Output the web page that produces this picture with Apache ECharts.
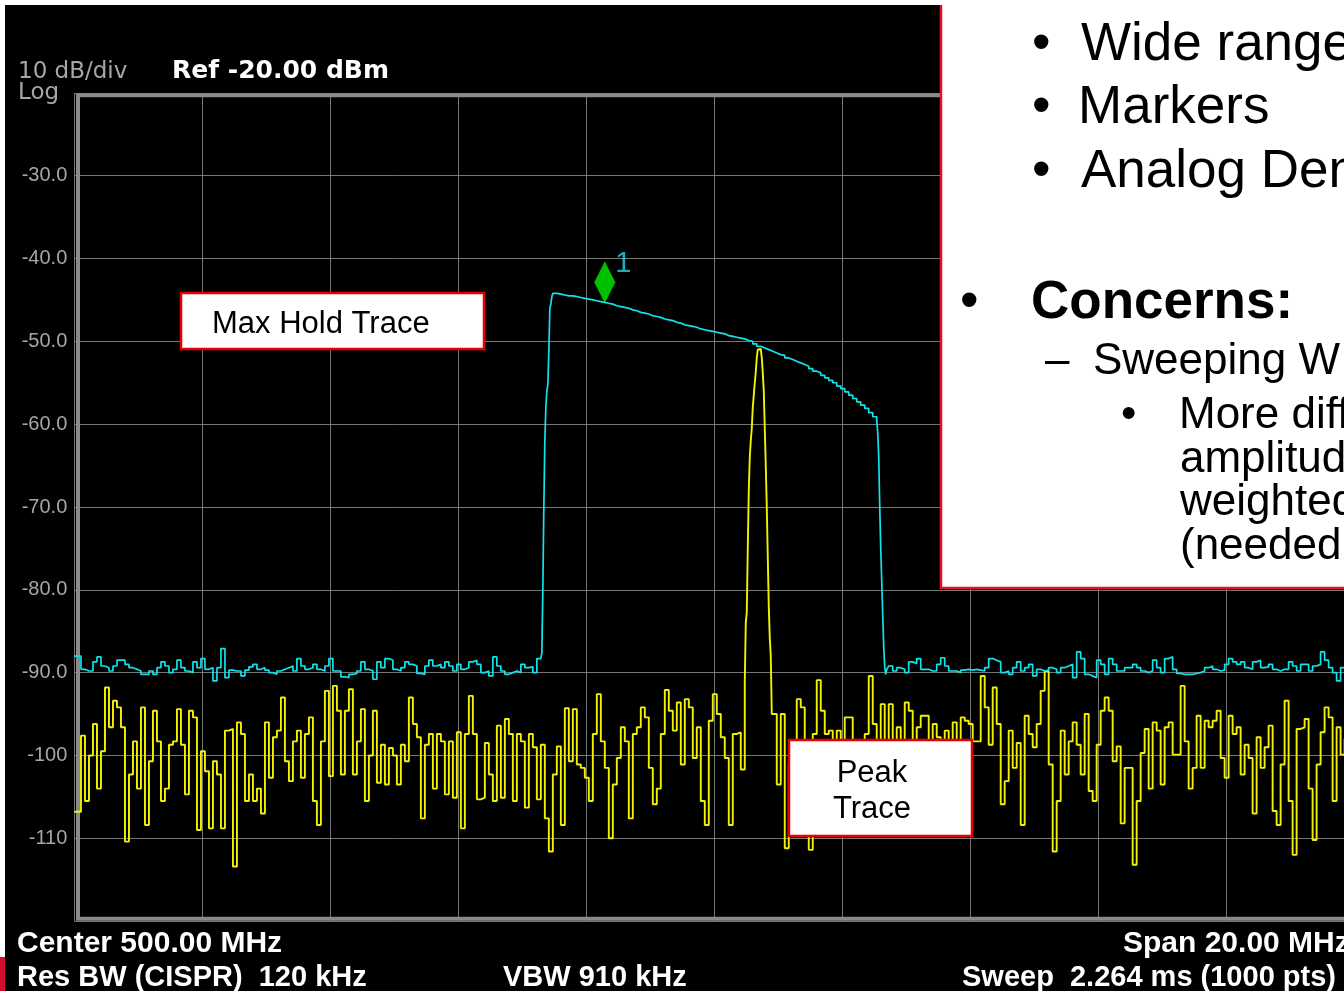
<!DOCTYPE html>
<html>
<head>
<meta charset="utf-8">
<title>Spectrum - Max Hold vs Peak</title>
<script src="https://cdn.jsdelivr.net/npm/echarts@6/dist/echarts.min.js"></script>
<style>
  html, body { margin: 0; padding: 0; width: 1344px; height: 991px; overflow: hidden; background: #ffffff; }
  #chart { position: absolute; left: 0; top: 0; width: 1360px; height: 991px; }
</style>
</head>
<body>
<div id="chart"></div>
<script>
// Sweep: center 500 MHz, span 20 MHz, displayed in 0.0625 MHz bins
const START_FREQ = 490;
const STOP_FREQ = 510;
const BIN_STEP = 0.0625;
const FINE_STEP = 0.015625;
const BIN_OFFSET = 0.042;   // first bin edge relative to the start frequency

const levelTicks = [-30, -40, -50, -60, -70, -80, -90, -100, -110];
const levelTickLabels = ['-30.0', '-40.0', '-50.0', '-60.0', '-70.0', '-80.0', '-90.0', '-100', '-110'];

// Peak (clear/write) trace, dBm
const peakLowStart = 0;
const peakLow = [
  -106.8,-97.6,-105.5,-100.0,-96.2,-104.0,-99.5,-91.8,-96.6,-93.4,
  -94.2,-96.6,-110.4,-102.3,-98.3,-104.0,-94.2,-108.4,-100.7,-94.6,
  -98.3,-105.5,-104.0,-98.7,-98.3,-94.4,-98.7,-104.7,-94.6,-95.4,
  -109.0,-99.5,-101.9,-108.8,-100.7,-102.3,-108.8,-97.0,-96.8,-113.4,
  -96.0,-97.4,-105.5,-102.3,-105.5,-104.0,-107.0,-96.0,-102.7,-97.8,
  -97.0,-93.0,-100.7,-103.1,-98.3,-97.0,-102.7,-97.4,-95.4,-105.5,
  -108.4,-98.3,-92.2,-102.5,-91.6,-94.6,-102.3,-94.6,-92.0,-102.3,
  -98.3,-94.4,-105.5,-100.0,-94.6,-103.3,-98.7,-103.5,-99.1,-100.0,
  -103.5,-98.7,-100.7,-93.0,-96.2,-97.8,-107.6,-98.7,-97.4,-104.0,
  -97.4,-98.3,-104.7,-98.3,-105.1,-97.2,-108.8,-97.4,-92.8,-97.4,
  -105.3,-105.1,-98.5,-102.3,-105.5,-96.4,-105.1,-95.6,-97.4,-105.5,
  -97.4,-98.3,-106.3,-97.4,-99.0,-105.3,-98.7,-107.6,-111.6,-102.3,
  -98.9,-108.4,-94.3,-100.7,-94.4,-101.1,-101.5,-102.7,-105.5,-97.4,
  -92.6,-98.3,-101.5,-110.0,-103.5,-100.3,-96.6,-98.3,-107.6,-97.4,
  -96.6,-94.2,-95.4,-101.5,-105.9,-104.0,-97.4,-92.1,-94.6,-97.0,
  -93.6,-101.1,-93.2,-94.2,-100.3,-96.6,-105.5,-108.4,-95.8,-92.6,
  -95.0,-97.8,-100.3,-108.4,-97.4,-97.2,-101.7
];
const peakCarrierStart = 167;
const peakCarrier = [
  -91.0,-84.0,-82.7,-75.0,-68.0,-64.0,-62.0,-60.5,-58.0,-56.5,
  -55.0,-53.7,-52.0,-51.0,-50.9,-50.9,-51.0,-52.0,-53.8,-56.0,
  -60.5,-65.0,-70.0,-76.0,-82.0,-85.8,-88.0,-95.0
];
const peakHighStart = 174;
const peakHigh = [
  -95.0,-103.5,-95.0,-111.2,-101.0,-99.0,-93.2,-94.2,-103.0,-111.4,
  -97.4,-90.9,-94.6,-97.4,-97.0,-101.0,-97.0,-102.0,-95.4,-95.4,
  -100.0,-104.0,-99.0,-97.4,-90.4,-96.2,-98.7,-93.8,-100.0,-93.8,
  -102.0,-96.6,-101.0,-93.6,-94.6,-100.0,-96.6,-95.2,-95.2,-101.0,
  -96.2,-97.8,-100.0,-97.0,-101.0,-96.0,-103.0,-95.4,-95.8,-96.2,
  -98.3,-98.3,-90.4,-94.2,-98.7,-91.8,-96.2,-105.9,-103.1,-97.0,
  -101.5,-98.5,-108.4,-95.2,-97.4,-99.0,-96.2,-92.2,-89.8,-101.1,
  -111.6,-105.5,-97.0,-102.3,-98.3,-96.0,-98.7,-102.3,-95.0,-104.3,
  -105.5,-98.7,-94.6,-93.0,-94.6,-100.7,-98.9,-108.2,-101.5,-101.5,
  -113.2,-105.5,-99.7,-96.8,-104.0,-96.0,-97.0,-103.5,-96.6,-96.0,
  -99.9,-99.9,-91.6,-98.3,-104.0,-101.5,-95.2,-101.5,-95.8,-96.6,
  -95.8,-94.6,-100.3,-102.7,-95.2,-97.4,-96.6,-102.3,-98.7,-100.3,
  -107.0,-97.8,-101.5,-99.0,-96.4,-106.7,-108.4,-101.1,-93.4,-105.5,
  -112.0,-96.8,-96.6,-95.6,-104.0,-110.2,-101.1,-97.2,-94.2,-95.4,
  -105.5,-96.6,-99.9,-98.0,-101.0,-97.0,-99.0
];

// Max hold trace, dBm
const maxHoldLowStart = 0;
const maxHoldLow = [
  -88.0,-89.6,-89.8,-89.8,-88.7,-88.1,-89.2,-89.4,-89.8,-89.2,
  -88.5,-88.5,-89.0,-89.4,-89.6,-89.8,-90.2,-90.2,-89.8,-90.2,
  -89.4,-88.7,-89.2,-90.0,-89.6,-88.5,-89.4,-89.8,-90.0,-88.7,
  -89.4,-88.3,-89.6,-89.4,-91.0,-89.4,-87.1,-90.6,-89.7,-89.8,
  -89.8,-90.4,-89.7,-89.3,-89.0,-89.6,-89.4,-89.7,-90.0,-90.2,
  -89.8,-89.6,-89.4,-89.2,-89.8,-88.3,-89.2,-89.6,-89.4,-89.0,
  -89.6,-89.8,-89.2,-88.3,-89.8,-89.8,-90.5,-90.6,-90.2,-90.1,
  -89.8,-88.7,-89.6,-89.8,-90.8,-88.7,-89.4,-88.3,-88.5,-89.6,
  -89.8,-89.4,-88.7,-89.0,-89.2,-90.1,-90.2,-89.2,-88.5,-89.2,
  -89.0,-89.4,-88.7,-89.2,-89.8,-89.0,-89.6,-89.4,-88.7,-88.5,
  -89.0,-90.0,-89.8,-90.4,-88.1,-89.2,-89.8,-90.2,-90.0,-89.8,
  -90.0,-89.0,-89.4,-89.3,-90.0,-88.3
];
const maxHoldRiseStart = 116;
const maxHoldRise = [-88.5,-87.6,-80.0,-70.0,-62.0,-58.0,-56.0,-55.2,-51.3,-46.0,-45.5,-44.6];
const maxHoldTopStart = 119;
const maxHoldTop = [
  -44.2,-44.3,-44.4,-44.5,-44.5,-44.6,-44.7,-44.8,-44.9,-45.0,
  -45.1,-45.2,-45.3,-45.4,-45.5,-45.7,-45.8,-45.9,-46.0,-46.2,
  -46.3,-46.5,-46.6,-46.7,-46.9,-47.0,-47.1,-47.3,-47.4,-47.5,
  -47.7,-47.8,-48.0,-48.1,-48.2,-48.3,-48.5,-48.6,-48.7,-48.8,
  -48.9,-49.0,-49.1,-49.3,-49.4,-49.5,-49.6,-49.7,-49.9,-50.0,
  -50.3,-50.6,-50.8,-51.0,-51.2,-51.4,-51.6,-51.7,-52.0,-52.2,
  -52.4,-52.6,-52.8,-53.0,-53.3,-53.6,-53.8,-54.1,-54.4,-54.7,
  -55.0,-55.4,-55.7,-56.1,-56.5,-56.9,-57.3,-57.7,-58.1,-58.6,
  -59.1
];
const maxHoldFallStart = 200;
const maxHoldFall = [-59.6,-61.0,-64.0,-70.0,-75.0,-79.0,-83.0,-87.0,-89.3,-90.2,-89.6,-89.8];
const maxHoldHighStart = 203;
const maxHoldHigh = [
  -89.2,-89.8,-89.4,-89.6,-90.0,-88.7,-88.9,-88.3,-89.6,-89.6,
  -89.8,-89.8,-89.0,-88.2,-89.2,-89.8,-89.8,-90.0,-89.7,-89.6,
  -89.7,-89.6,-89.7,-89.8,-89.4,-88.3,-88.5,-88.7,-90.0,-89.8,
  -90.2,-89.4,-88.7,-89.8,-89.4,-89.0,-90.4,-89.6,-89.8,-89.7,
  -89.4,-89.6,-90.0,-89.4,-89.2,-89.0,-90.6,-87.5,-88.3,-90.2,
  -90.4,-90.6,-88.5,-89.0,-90.2,-88.3,-89.0,-89.8,-89.8,-89.4,
  -89.4,-89.0,-89.4,-89.8,-90.0,-89.8,-88.5,-89.4,-90.0,-88.3,
  -88.1,-89.6,-90.1,-90.2,-90.2,-90.2,-90.1,-90.0,-89.8,-89.4,
  -89.2,-89.6,-89.8,-89.7,-89.0,-88.3,-88.7,-89.0,-88.7,-89.4,
  -89.6,-88.7,-88.5,-89.4,-89.3,-89.0,-89.6,-89.8,-89.6,-89.6,
  -88.7,-89.2,-89.8,-89.0,-89.0,-89.8,-89.2,-89.0,-87.5,-88.5,
  -89.4,-90.0,-91.0,-89.4,-89.6,-89.2,-89.8,-89.5
];

// Marker 1 sits on the max hold trace
const markerFreq = 498.29;

// turn a run of levels into [freq, level] points
function segment(levels, startBin, step) {
  const f0 = START_FREQ + BIN_OFFSET + startBin * BIN_STEP;
  return levels.map((v, k) => [Math.max(START_FREQ, startBin === 0 && k === 0 ? START_FREQ : f0 + k * step), v]);
}

const peakData = [].concat(
  segment(peakLow, peakLowStart, BIN_STEP),
  segment(peakCarrier, peakCarrierStart, FINE_STEP),
  segment(peakHigh, peakHighStart, BIN_STEP)
);
const maxHoldData = [].concat(
  segment(maxHoldLow, maxHoldLowStart, BIN_STEP),
  segment(maxHoldRise, maxHoldRiseStart, FINE_STEP),
  segment(maxHoldTop, maxHoldTopStart, BIN_STEP),
  segment(maxHoldFall, maxHoldFallStart, FINE_STEP),
  segment(maxHoldHigh, maxHoldHighStart, BIN_STEP)
);
const markerPoint = maxHoldData.reduce((best, p) =>
  Math.abs(p[0] - markerFreq) < Math.abs(best[0] - markerFreq) ? p : best, maxHoldData[0]);

const GRID = { left: 74.3, top: 92.9, width: 1279.6, height: 828.2 };
const SANS = '"Liberation Sans", Arial, sans-serif';
const GRAY = '#a6a6a6';

function txt(x, y, text, o) {
  return {
    type: 'text', x: x, y: y, z: o.z || 20, silent: true,
    style: Object.assign({
      text: text, fill: '#ffffff', fontFamily: SANS, fontSize: 29,
      align: 'left', verticalAlign: 'middle'
    }, o.style || {})
  };
}

const chart = echarts.init(document.getElementById('chart'), null, { renderer: 'canvas' });

chart.setOption({
  animation: false,
  backgroundColor: '#000000',
  grid: Object.assign({ containLabel: false, outerBoundsMode: 'none' }, GRID),
  xAxis: {
    type: 'value', min: START_FREQ, max: STOP_FREQ, interval: 2,
    axisLine: { show: false }, axisTick: { show: false }, axisLabel: { show: false },
    splitLine: { show: true, lineStyle: { color: '#767676', width: 1 } }
  },
  yAxis: {
    type: 'value', min: -120, max: -20, interval: 10,
    axisLine: { show: false }, axisTick: { show: false },
    axisLabel: {
      margin: 7, color: GRAY, fontSize: 20, fontFamily: SANS,
      padding: [3, 0, 0, 0],
      formatter: v => { const k = levelTicks.indexOf(Math.round(v)); return k < 0 ? '' : levelTickLabels[k]; }
    },
    splitLine: { show: true, lineStyle: { color: '#767676', width: 1 } }
  },
  series: [
    {
      name: 'Peak', type: 'line', step: 'end', data: peakData, showSymbol: false, silent: true,
      lineStyle: { color: '#f2f200', width: 1.9 }, z: 3
    },
    {
      name: 'Max Hold', type: 'line', step: 'end', data: maxHoldData, showSymbol: false, silent: true,
      lineStyle: { color: '#12e2ea', width: 1.7 }, z: 4
    },
    {
      name: 'Marker 1', type: 'scatter', data: [markerPoint], silent: true,
      symbol: 'diamond', symbolSize: [21, 42], symbolOffset: [0, -21],
      itemStyle: { color: '#00f000' },
      label: {
        show: true, formatter: '1', position: [21, 3], align: 'left', verticalAlign: 'middle',
        color: '#22d8e0', fontSize: 29, fontFamily: SANS
      },
      z: 5
    }
  ],
  graphic: { elements: [
    // page margins
    { type: 'rect', shape: { x: 0, y: 0, width: 1360, height: 5 }, style: { fill: '#ffffff' }, z: 50, silent: true },
    { type: 'rect', shape: { x: 0, y: 0, width: 5, height: 991 }, style: { fill: '#ffffff' }, z: 50, silent: true },
    { type: 'rect', shape: { x: 0, y: 957, width: 5, height: 34 }, style: { fill: '#d0102c' }, z: 51, silent: true },

    // graticule frame
    { type: 'rect', shape: { x: 78, y: 95.3, width: 1300, height: 823.4 },
      style: { fill: 'none', stroke: '#8a8a8a', lineWidth: 4 }, z: 1, silent: true },

    // header
    txt(18, 72, '10 dB/div', { style: { fill: GRAY, fontFamily: '"DejaVu Sans", sans-serif', fontSize: 23 } }),
    txt(18, 93, 'Log', { style: { fill: GRAY, fontFamily: '"DejaVu Sans", sans-serif', fontSize: 23 } }),
    txt(172, 71.3, 'Ref -20.00 dBm', { style: { fontFamily: '"DejaVu Sans", sans-serif', fontWeight: 'bold', fontSize: 25 } }),

    // footer
    txt(17, 943.5, 'Center 500.00 MHz', { style: { fontWeight: 'bold', fontSize: 30 } }),
    txt(17, 978.3, 'Res BW (CISPR)  120 kHz', { style: { fontWeight: 'bold' } }),
    txt(503, 978.3, 'VBW 910 kHz', { style: { fontWeight: 'bold' } }),
    txt(1123, 943.5, 'Span 20.00 MHz', { style: { fontWeight: 'bold', fontSize: 30 } }),
    txt(962, 978.3, 'Sweep  2.264 ms (1000 pts)', { style: { fontWeight: 'bold' } }),

    // callouts
    { type: 'rect', shape: { x: 181, y: 293, width: 303, height: 56 },
      style: { fill: '#ffffff', stroke: '#e80000', lineWidth: 2.5 }, z: 30, silent: true },
    txt(212, 324.3, 'Max Hold Trace', { z: 31, style: { fill: '#000000', fontSize: 31 } }),
    { type: 'rect', shape: { x: 789, y: 740, width: 183, height: 96 },
      style: { fill: '#ffffff', stroke: '#e80000', lineWidth: 2.5 }, z: 30, silent: true },
    txt(872, 773.3, 'Peak', { z: 31, style: { fill: '#000000', fontSize: 31, align: 'center' } }),
    txt(872, 809.3, 'Trace', { z: 31, style: { fill: '#000000', fontSize: 31, align: 'center' } }),

    // slide text panel
    { type: 'rect', shape: { x: 941, y: -5, width: 430, height: 593 },
      style: { fill: '#ffffff', stroke: '#e6102e', lineWidth: 2.5 }, z: 40, silent: true },
    txt(1032, 45.5, '\u2022', { z: 41, style: { fill: '#000000', fontSize: 53 } }),
    txt(1081, 45.5, 'Wide range', { z: 41, style: { fill: '#000000', fontSize: 53 } }),
    txt(1032, 108.2, '\u2022', { z: 41, style: { fill: '#000000', fontSize: 53 } }),
    txt(1078, 108.2, 'Markers', { z: 41, style: { fill: '#000000', fontSize: 53 } }),
    txt(1032, 172.8, '\u2022', { z: 41, style: { fill: '#000000', fontSize: 53 } }),
    txt(1081, 172.8, 'Analog Demodulation', { z: 41, style: { fill: '#000000', fontSize: 53 } }),
    txt(960, 303.6, '\u2022', { z: 41, style: { fill: '#000000', fontSize: 53 } }),
    txt(1031, 303.6, 'Concerns:', { z: 41, style: { fill: '#000000', fontSize: 53, fontWeight: 'bold' } }),
    txt(1045, 361.9, '\u2013', { z: 41, style: { fill: '#000000', fontSize: 44 } }),
    txt(1093, 361.9, 'Sweeping W', { z: 41, style: { fill: '#000000', fontSize: 44 } }),
    txt(1121, 415.9, '\u2022', { z: 41, style: { fill: '#000000', fontSize: 44 } }),
    txt(1179, 415.9, 'More diff', { z: 41, style: { fill: '#000000', fontSize: 44 } }),
    txt(1180, 459.4, 'amplitude', { z: 41, style: { fill: '#000000', fontSize: 44 } }),
    txt(1180, 502.9, 'weighted', { z: 41, style: { fill: '#000000', fontSize: 44 } }),
    txt(1180, 546.4, '(needed', { z: 41, style: { fill: '#000000', fontSize: 44 } })
  ] }
});
</script>
</body>
</html>
